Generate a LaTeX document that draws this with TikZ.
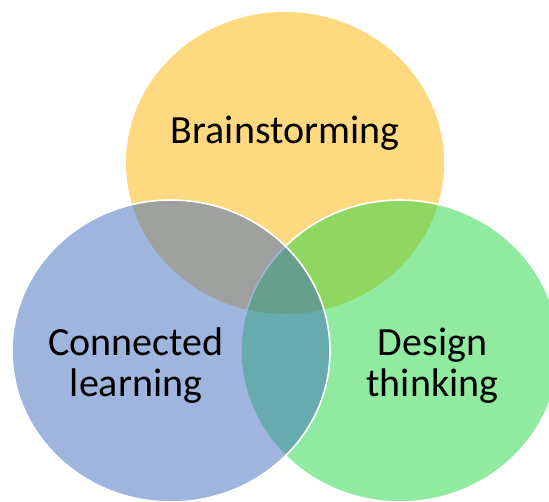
\documentclass[tikz,border=0pt]{standalone}
\usepackage{fontspec}
\setmainfont{Carlito}
\definecolor{cyellow}{RGB}{255,217,127}
\definecolor{cgreen}{RGB}{33,215,67}
\definecolor{cblue}{RGB}{63,107,187}
\begin{document}
\begin{tikzpicture}[x=1pt,y=-1pt,
  vennlabel/.style={font=\fontsize{40}{41}\selectfont, align=center, text=black, inner sep=0pt},
  outline/.style={draw=white, line width=1.6pt}]
\useasboundingbox (0,0) rectangle (549,501);
\clip (0,0) rectangle (549,501);
% yellow (drawn first, opaque)
\fill[cyellow] (285,163) ellipse [x radius=159, y radius=151];
% green
\fill[cgreen, fill opacity=0.5] (400,351) ellipse [x radius=159, y radius=151];
\draw[outline] (400,351) ellipse [x radius=159, y radius=151];
% blue
\fill[cblue, fill opacity=0.5] (171,351) ellipse [x radius=159, y radius=151];
\draw[outline] (171,351) ellipse [x radius=159, y radius=151];
% labels
\node[vennlabel, anchor=base] (brain) at (285,143) {Brainstorming};
\node[vennlabel, anchor=base] (conn) at (136,396) {Connected\\learning};
\node[vennlabel, anchor=base] (design) at (432.5,396) {Design\\thinking};
\end{tikzpicture}
\end{document}
